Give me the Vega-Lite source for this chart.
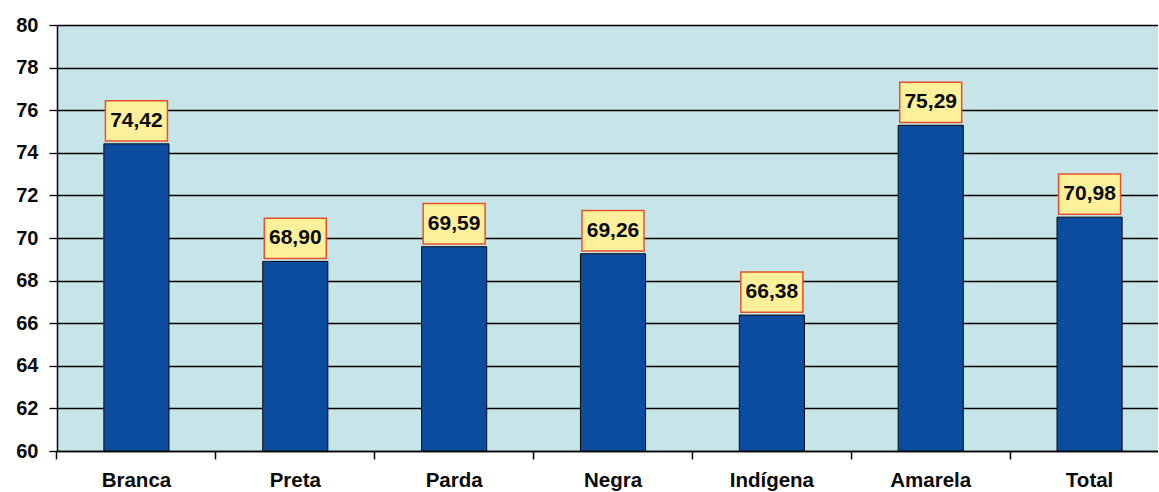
{
  "$schema": "https://vega.github.io/schema/vega-lite/v6.json",
  "width": 1101,
  "height": 426,
  "autosize": {"type": "none"},
  "padding": {"left": 57, "top": 25, "right": 0, "bottom": 41},
  "background": "white",
  "config": {"view": {"fill": "#c6e5e8", "stroke": null}, "font": "Liberation Sans"},
  "data": {"values": [
    {"cat": "Branca", "v": 74.42, "label": "74,42"},
    {"cat": "Preta", "v": 68.90, "label": "68,90"},
    {"cat": "Parda", "v": 69.59, "label": "69,59"},
    {"cat": "Negra", "v": 69.26, "label": "69,26"},
    {"cat": "Indígena", "v": 66.38, "label": "66,38"},
    {"cat": "Amarela", "v": 75.29, "label": "75,29"},
    {"cat": "Total", "v": 70.98, "label": "70,98"}
  ]},
  "layer": [
    {
      "mark": {"type": "bar", "color": "#0b4c9e", "stroke": "#0a0a0a", "strokeWidth": 1},
      "encoding": {
        "x": {"field": "cat", "type": "nominal", "sort": null,
          "scale": {"range": [0, 1112], "paddingInner": 0.59, "paddingOuter": 0.295},
          "axis": {"orient": "bottom", "title": null, "ticks": false, "domainColor": "#000", "domainWidth": 1.5, "labelAngle": 0,
            "labelFont": "Liberation Sans", "labelFontSize": 20.5, "labelFontWeight": "bold", "labelPadding": 19, "labelColor": "#0a0a0a"}},
        "y": {"field": "v", "type": "quantitative", "scale": {"domain": [60, 80], "zero": false},
          "axis": {"values": [60, 62, 64, 66, 68, 70, 72, 74, 76, 78, 80], "title": null, "grid": true,
            "gridColor": "#000", "gridWidth": 1.3, "gridOpacity": 1, "domainColor": "#000", "domainWidth": 1.5,
            "tickColor": "#000", "tickSize": 8, "tickWidth": 1.3, "labelFont": "Liberation Sans", "labelFontWeight": "bold",
            "labelFontSize": 20, "labelColor": "#0a0a0a", "labelPadding": 11}},
        "y2": {"datum": 60}
      }
    },
    {
      "mark": {"type": "point", "shape": "M-1,-0.65L1,-0.65L1,0.65L-1,0.65Z", "size": 3844, "filled": true,
        "fill": "#fcf09a", "stroke": "#e8502c", "strokeWidth": 1.5, "opacity": 1, "yOffset": -23},
      "encoding": {
        "x": {"field": "cat", "type": "nominal", "sort": null,
          "axis": {"orient": "bottom", "title": null, "bandPosition": -0.72, "labels": false, "domain": false, "ticks": true, "tickSize": 8,
            "tickColor": "#000", "tickWidth": 1.5, "tickOpacity": 1, "grid": false}},
        "y": {"field": "v", "type": "quantitative"}
      }
    },
    {
      "mark": {"type": "text", "font": "Liberation Sans", "fontWeight": "bold", "fontSize": 21, "color": "#0a0a0a", "yOffset": -23, "baseline": "middle"},
      "encoding": {
        "x": {"field": "cat", "type": "nominal", "sort": null, "axis": null},
        "y": {"field": "v", "type": "quantitative"},
        "text": {"field": "label"}
      }
    }
  ],
  "resolve": {"axis": {"x": "independent"}}
}
